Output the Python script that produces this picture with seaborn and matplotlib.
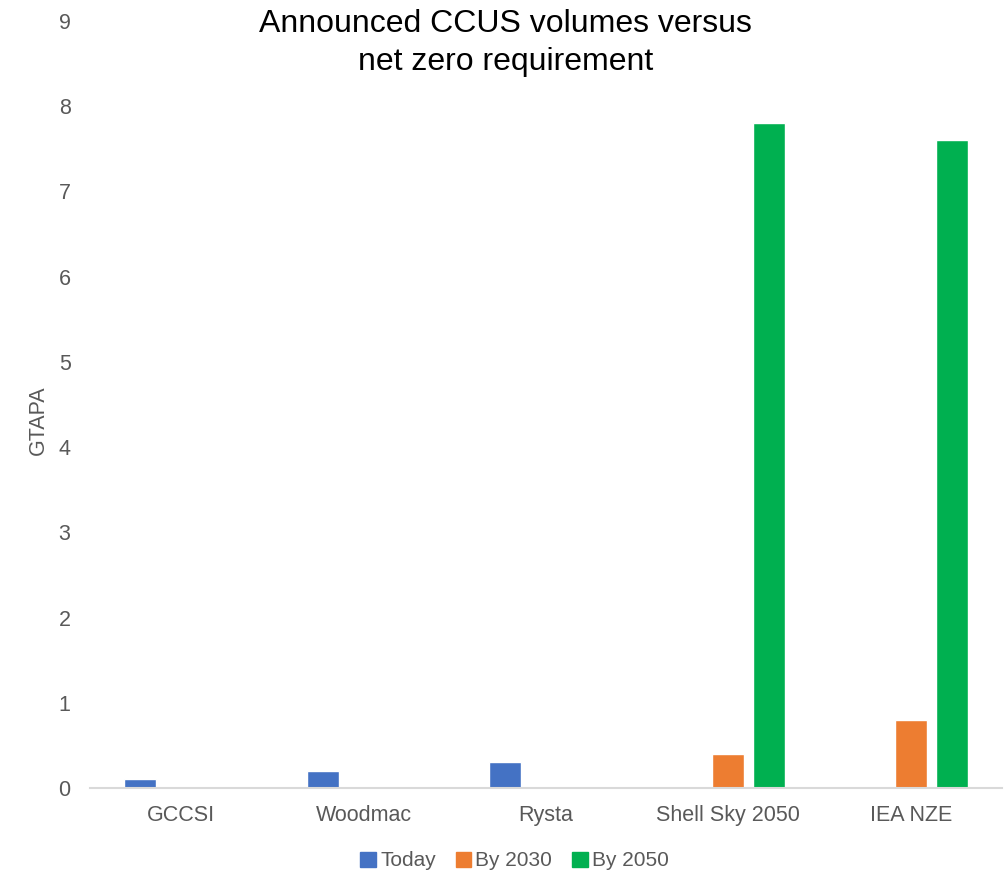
import pandas as pd
import matplotlib
matplotlib.use("Agg")
import matplotlib.pyplot as plt
import seaborn as sns

sources = ["GCCSI", "Woodmac", "Rysta", "Shell Sky 2050", "IEA NZE"]
series = ["Today", "By 2030", "By 2050"]
today = [0.1, 0.2, 0.3, 0, 0]
by_2030 = [0, 0, 0, 0.4, 0.8]
by_2050 = [0, 0, 0, 7.8, 7.6]
colors = ["#4472C4", "#ED7D31", "#00B050"]

df = pd.DataFrame({
    "source": sources * 3,
    "series": [s for s in series for _ in sources],
    "value": today + by_2030 + by_2050,
})

sns.set_style("white")
plt.rcParams["font.family"] = ["Liberation Sans", "DejaVu Sans"]

fig = plt.figure(figsize=(10.05, 8.75), dpi=100)
ax = fig.add_axes([90 / 1005, 87 / 875, 912 / 1005, 767 / 875])

sns.barplot(data=df, x="source", y="value", hue="series", palette=colors,
            width=0.675, gap=0.22, ax=ax, legend=False, saturation=1)

ax.set_xlim(-0.5, 4.5)
ax.set_ylim(0, 9)
ax.set_yticks(range(0, 10))
for s in ["top", "right", "left"]:
    ax.spines[s].set_visible(False)
ax.spines["bottom"].set_color("#D9D9D9")
ax.spines["bottom"].set_linewidth(1.5)
ax.tick_params(axis="both", length=0, labelsize=15.5, labelcolor="#595959")
ax.tick_params(axis="x", pad=12)
ax.tick_params(axis="y", pad=14)
ax.set_xlabel("")
ax.set_ylabel("GTAPA", fontsize=15.5, color="#595959")
ax.yaxis.set_label_coords(-0.045, 0.48)

fig.text(0.503, 0.951, "Announced CCUS volumes versus\nnet zero requirement",
         ha="center", va="center", fontsize=23, color="black", linespacing=1.38)

handles = [plt.Rectangle((0, 0), 1, 1, color=c) for c in colors]
fig.legend(handles, series, loc="center", bbox_to_anchor=(0.512, 1 - 861 / 875),
           ncol=3, frameon=False, fontsize=15, labelcolor="#595959",
           handlelength=0.75, handleheight=0.75, handletextpad=0.2,
           columnspacing=0.95)

fig.savefig("out.png", dpi=100)
